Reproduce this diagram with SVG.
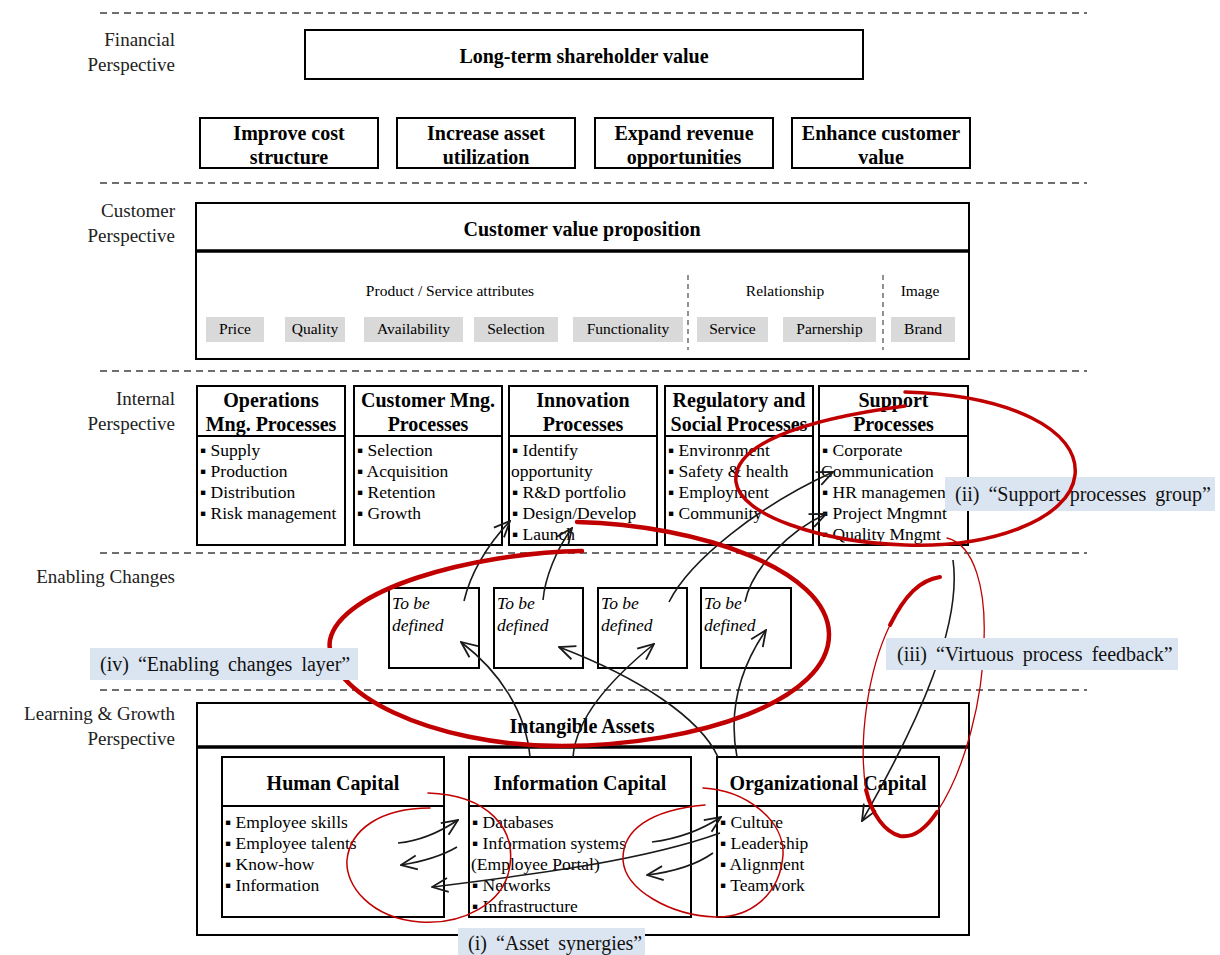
<svg xmlns="http://www.w3.org/2000/svg" width="1220" height="955" viewBox="0 0 1220 955">
<style>
.bg{fill:#fff}
.box{fill:#fff;stroke:#000;stroke-width:2}
.sep{stroke:#000;stroke-width:2}
.thk{stroke:#000;stroke-width:3.5}
.hdr{font-family:"Liberation Serif",serif;font-weight:bold;font-size:20px;text-anchor:middle;fill:#000}
.it{font-family:"Liberation Serif",serif;font-size:17.5px;fill:#000}
.lbl{font-family:"Liberation Serif",serif;font-size:19px;text-anchor:end;fill:#222}
.sm{font-family:"Liberation Serif",serif;font-size:15.5px;text-anchor:middle;fill:#000}
.gray{fill:#d9d9d9}
.tbd{font-family:"Liberation Serif",serif;font-style:italic;font-size:17.5px;fill:#000}
.note{fill:#dbe5f1}
.notet{font-family:"Liberation Serif",serif;font-size:20px;word-spacing:4px;fill:#111}
.dash{stroke:#6e6e6e;stroke-width:2;stroke-dasharray:7 5}
.vdash{stroke:#777;stroke-width:1.6;stroke-dasharray:5 4}
.red{fill:none;stroke:#c00000;stroke-linecap:round}
.arr{fill:none;stroke:#1a1a1a;stroke-width:1.6;marker-end:url(#ah)}
</style>
<defs>
<marker id="ah" viewBox="0 0 18 18" refX="17" refY="9" markerWidth="18" markerHeight="18" markerUnits="userSpaceOnUse" orient="auto">
<path d="M1,2 L17,9 L1,16" fill="none" stroke="#1a1a1a" stroke-width="1.8"/>
</marker>
</defs>
<rect class="bg" x="0" y="0" width="1220" height="955"/>

<g id="layers">
<line class="dash" x1="100" y1="13" x2="1087" y2="13"/>
<line class="dash" x1="100" y1="183" x2="1087" y2="183"/>
<line class="dash" x1="100" y1="371" x2="1087" y2="371"/>
<line class="dash" x1="100" y1="553" x2="1087" y2="553"/>
<line class="dash" x1="100" y1="690" x2="1087" y2="690"/>
<text class="lbl" x="175" y="46">Financial</text>
<text class="lbl" x="175" y="71">Perspective</text>
<text class="lbl" x="175" y="217">Customer</text>
<text class="lbl" x="175" y="242">Perspective</text>
<text class="lbl" x="175" y="405">Internal</text>
<text class="lbl" x="175" y="430">Perspective</text>
<text class="lbl" x="175" y="583">Enabling Changes</text>
<text class="lbl" x="175" y="720">Learning &amp; Growth</text>
<text class="lbl" x="175" y="745">Perspective</text>
</g>

<g id="shareholder">
<rect class="box" x="305" y="30" width="558" height="49"/>
<text class="hdr" x="584" y="63">Long-term shareholder value</text>
</g>
<g id="cost">
<rect class="box" x="200" y="118" width="178" height="50"/>
<text class="hdr" x="289" y="140">Improve cost</text>
<text class="hdr" x="289" y="164">structure</text>
</g>
<g id="asset">
<rect class="box" x="397" y="118" width="178" height="50"/>
<text class="hdr" x="486" y="140">Increase asset</text>
<text class="hdr" x="486" y="164">utilization</text>
</g>
<g id="revenue">
<rect class="box" x="595" y="118" width="178" height="50"/>
<text class="hdr" x="684" y="140">Expand revenue</text>
<text class="hdr" x="684" y="164">opportunities</text>
</g>
<g id="custvalue">
<rect class="box" x="792" y="118" width="178" height="50"/>
<text class="hdr" x="881" y="140">Enhance customer</text>
<text class="hdr" x="881" y="164">value</text>
</g>

<g id="cvp">
<rect class="box" x="196" y="203" width="773" height="156"/>
<line class="thk" x1="196" y1="251" x2="969" y2="251"/>
<text class="hdr" x="582" y="236">Customer value proposition</text>
<text class="sm" x="450" y="296">Product / Service attributes</text>
<text class="sm" x="785" y="296">Relationship</text>
<text class="sm" x="920" y="296">Image</text>
<line class="vdash" x1="688" y1="275" x2="688" y2="350"/>
<line class="vdash" x1="883" y1="275" x2="883" y2="350"/>
<rect class="gray" x="206" y="317" width="58" height="25"/>
<rect class="gray" x="285" y="317" width="60" height="25"/>
<rect class="gray" x="364" y="317" width="99" height="25"/>
<rect class="gray" x="474" y="317" width="84" height="25"/>
<rect class="gray" x="573" y="317" width="110" height="25"/>
<rect class="gray" x="697" y="317" width="71" height="25"/>
<rect class="gray" x="783" y="317" width="93" height="25"/>
<rect class="gray" x="891" y="317" width="64" height="25"/>
<text class="sm" x="235" y="334">Price</text>
<text class="sm" x="315" y="334">Quality</text>
<text class="sm" x="413.5" y="334">Availability</text>
<text class="sm" x="516" y="334">Selection</text>
<text class="sm" x="628" y="334">Functionality</text>
<text class="sm" x="732.5" y="334">Service</text>
<text class="sm" x="829.5" y="334">Parnership</text>
<text class="sm" x="923" y="334">Brand</text>
</g>

<g id="ops">
<rect class="box" x="197" y="386" width="148" height="159"/>
<line class="sep" x1="197" y1="436" x2="345" y2="436"/>
<text class="hdr" x="271" y="407">Operations</text>
<text class="hdr" x="271" y="431">Mng. Processes</text>
<text class="it" x="200" y="456">▪ Supply</text>
<text class="it" x="200" y="477">▪ Production</text>
<text class="it" x="200" y="498">▪ Distribution</text>
<text class="it" x="200" y="519">▪ Risk management</text>
</g>
<g id="custmng">
<rect class="box" x="354" y="386" width="148" height="159"/>
<line class="sep" x1="354" y1="436" x2="502" y2="436"/>
<text class="hdr" x="428" y="407">Customer Mng.</text>
<text class="hdr" x="428" y="431">Processes</text>
<text class="it" x="357" y="456">▪ Selection</text>
<text class="it" x="357" y="477">▪ Acquisition</text>
<text class="it" x="357" y="498">▪ Retention</text>
<text class="it" x="357" y="519">▪ Growth</text>
</g>
<g id="innov">
<rect class="box" x="509" y="386" width="148" height="159"/>
<line class="sep" x1="509" y1="436" x2="657" y2="436"/>
<text class="hdr" x="583" y="407">Innovation</text>
<text class="hdr" x="583" y="431">Processes</text>
<text class="it" x="512" y="456">▪ Identify</text>
<text class="it" x="511" y="477">opportunity</text>
<text class="it" x="512" y="498">▪ R&amp;D portfolio</text>
<text class="it" x="512" y="519">▪ Design/Develop</text>
<text class="it" x="512" y="540">▪ Launch</text>
</g>
<g id="regul">
<rect class="box" x="665" y="386" width="148" height="159"/>
<line class="sep" x1="665" y1="436" x2="813" y2="436"/>
<text class="hdr" x="739" y="407">Regulatory and</text>
<text class="hdr" x="739" y="431">Social Processes</text>
<text class="it" x="668" y="456">▪ Environment</text>
<text class="it" x="668" y="477">▪ Safety &amp; health</text>
<text class="it" x="668" y="498">▪ Employment</text>
<text class="it" x="668" y="519">▪ Community</text>
</g>
<g id="support">
<rect class="box" x="819" y="386" width="149" height="159"/>
<line class="sep" x1="819" y1="436" x2="968" y2="436"/>
<text class="hdr" x="893.5" y="407">Support</text>
<text class="hdr" x="893.5" y="431">Processes</text>
<text class="it" x="822" y="456">▪ Corporate</text>
<text class="it" x="821" y="477">Communication</text>
<text class="it" x="822" y="498">▪ HR management</text>
<text class="it" x="822" y="519">▪ Project Mngmnt</text>
<text class="it" x="822" y="540">▪ Quality Mngmt</text>
</g>

<g id="tbd1">
<rect class="box" x="389" y="588" width="90" height="80"/>
<text class="tbd" x="392" y="609">To be</text>
<text class="tbd" x="392" y="631">defined</text>
</g>
<g id="tbd2">
<rect class="box" x="494" y="588" width="89" height="80"/>
<text class="tbd" x="497" y="609">To be</text>
<text class="tbd" x="497" y="631">defined</text>
</g>
<g id="tbd3">
<rect class="box" x="598" y="588" width="89" height="80"/>
<text class="tbd" x="601" y="609">To be</text>
<text class="tbd" x="601" y="631">defined</text>
</g>
<g id="tbd4">
<rect class="box" x="701" y="588" width="90" height="80"/>
<text class="tbd" x="704" y="609">To be</text>
<text class="tbd" x="704" y="631">defined</text>
</g>

<g id="intangible">
<rect class="box" x="197" y="703" width="772" height="232"/>
<line class="thk" x1="197" y1="747" x2="969" y2="747"/>
<text class="hdr" x="582" y="733">Intangible Assets</text>
</g>
<g id="human">
<rect class="box" x="222" y="757" width="222" height="160"/>
<line class="sep" x1="222" y1="806" x2="444" y2="806"/>
<text class="hdr" x="333" y="790">Human Capital</text>
<text class="it" x="225" y="828">▪ Employee skills</text>
<text class="it" x="225" y="849">▪ Employee talents</text>
<text class="it" x="225" y="870">▪ Know-how</text>
<text class="it" x="225" y="891">▪ Information</text>
</g>
<g id="info">
<rect class="box" x="469" y="757" width="222" height="160"/>
<line class="sep" x1="469" y1="806" x2="691" y2="806"/>
<text class="hdr" x="580" y="790">Information Capital</text>
<text class="it" x="472" y="828">▪ Databases</text>
<text class="it" x="472" y="849">▪ Information systems</text>
<text class="it" x="471" y="870">(Employee Portal)</text>
<text class="it" x="472" y="891">▪ Networks</text>
<text class="it" x="472" y="912">▪ Infrastructure</text>
</g>
<g id="org">
<rect class="box" x="717" y="757" width="222" height="160"/>
<line class="sep" x1="717" y1="806" x2="939" y2="806"/>
<text class="hdr" x="828" y="790">Organizational Capital</text>
<text class="it" x="720" y="828">▪ Culture</text>
<text class="it" x="720" y="849">▪ Leadership</text>
<text class="it" x="720" y="870">▪ Alignment</text>
<text class="it" x="720" y="891">▪ Teamwork</text>
</g>

<g id="note-ii">
<rect class="note" x="945" y="477" width="270" height="34"/>
<text class="notet" x="955" y="501">(ii) “Support processes group”</text>
</g>

<g id="connectors">
<path class="arr" d="M 464 601 C 470 575 486 546 510 521" stroke-width="2"/>
<path class="arr" d="M 543 600 C 545 578 556 550 572 528"/>
<path class="arr" d="M 669 602 C 690 560 760 505 833 472"/>
<path class="arr" d="M 745 602 C 752 568 790 530 826 514"/>
<path class="arr" d="M 530 757 C 526 712 500 672 461 642"/>
<path class="arr" d="M 573 757 C 576 718 610 680 654 644"/>
<path class="arr" d="M 718 757 C 700 718 640 678 559 647"/>
<path class="arr" d="M 737 757 C 728 710 740 668 766 630"/>
<path class="arr" d="M 953 560 C 962 625 920 720 862 821"/>
<path class="arr" d="M 398 843 C 420 841 440 832 458 820"/>
<path class="arr" d="M 457 847 C 440 857 420 862 401 865"/>
<path class="arr" d="M 720 833 C 640 862 520 876 432 887"/>
<path class="arr" d="M 652 842 C 676 839 700 831 721 817"/>
<path class="arr" d="M 713 853 C 696 865 672 872 647 875"/>
</g>

<g id="highlights">
<path class="red" stroke-width="3.5" d="M 905 392 C 1010 395 1080 430 1075 475 C 1070 520 990 548 905 545 C 820 542 740 515 736 482 C 732 445 800 420 905 406"/>
<path class="red" stroke-width="4.5" d="M 582 551 C 470 553 340 590 330 640 C 322 692 430 746 562 746 C 700 745 830 700 829 634 C 828 570 700 525 577 522"/>
<path class="red" stroke-width="1.3" d="M 947 538 C 975 545 986 590 984 640 C 983 700 965 770 937 812"/>
<path class="red" stroke-width="4" d="M 937 812 C 925 830 912 838 900 836 C 885 832 872 815 866 790"/>
<path class="red" stroke-width="1.3" d="M 866 790 C 858 740 868 670 890 625"/>
<path class="red" stroke-width="4" d="M 890 625 C 905 595 920 580 940 577"/>
<path class="red" stroke-width="1.5" d="M 428 793 C 490 795 515 830 510 865 C 505 905 460 925 420 922 C 370 918 345 885 347 860 C 350 830 380 808 430 808"/>
<path class="red" stroke-width="1.5" d="M 703 788 C 745 790 785 820 783 855 C 780 895 750 918 715 917 C 670 915 625 890 623 860 C 622 830 650 810 705 805"/>
</g>

<g id="note-iv">
<rect class="note" x="90" y="648" width="268" height="32"/>
<text class="notet" x="100" y="671">(iv) “Enabling changes layer”</text>
</g>
<g id="note-iii">
<rect class="note" x="886" y="638" width="292" height="32"/>
<text class="notet" x="897" y="661">(iii) “Virtuous process feedback”</text>
</g>
<g id="note-i">
<rect class="note" x="458" y="928" width="187" height="27"/>
<text class="notet" x="468" y="950">(i) “Asset synergies”</text>
</g>
</svg>
